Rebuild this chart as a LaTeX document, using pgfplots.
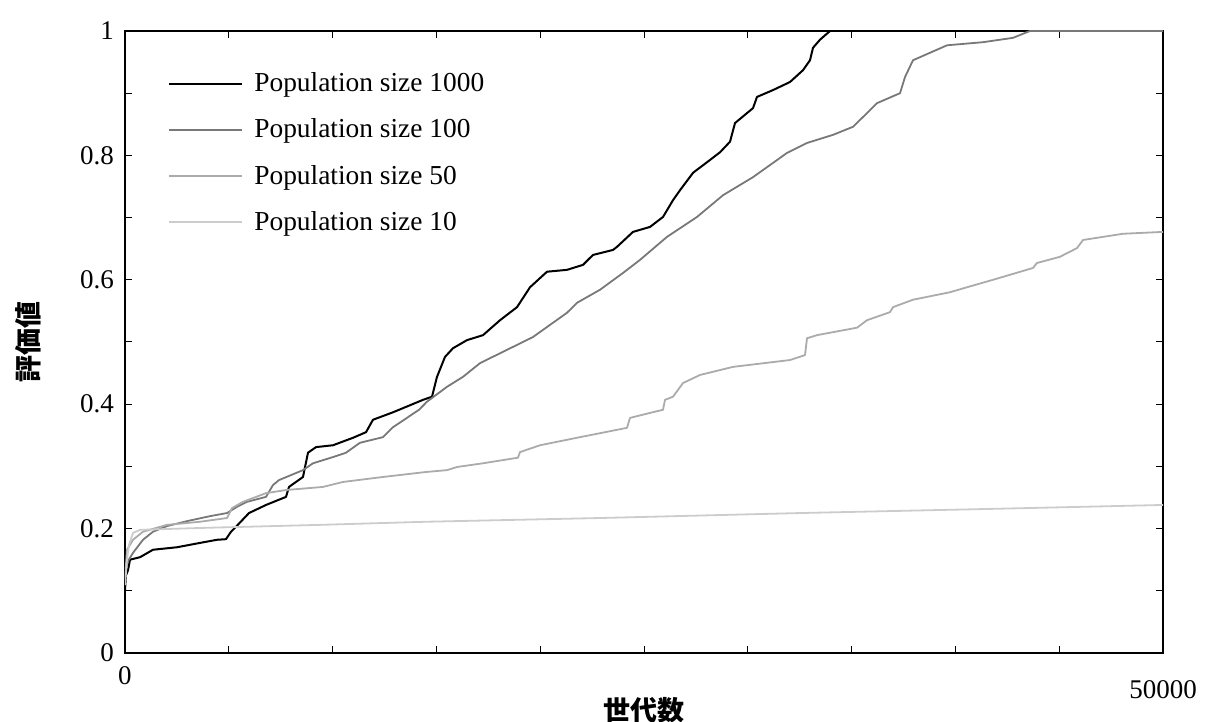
\documentclass[border=0pt]{standalone}
\usepackage{fontspec}
\setmainfont{Liberation Serif}
\newfontfamily\cjk{Noto Sans CJK JP}
\usepackage{pgfplots}
\pgfplotsset{compat=1.18}
\definecolor{cA}{gray}{0.0}
\definecolor{cB}{gray}{0.47}
\definecolor{cC}{gray}{0.67}
\definecolor{cD}{gray}{0.80}
\newcommand{\fs}{\fontsize{13.5pt}{16pt}\selectfont}
\newcommand{\fl}{\fontsize{13.7pt}{16pt}\selectfont}
\begin{document}
\begin{tikzpicture}
\path[use as bounding box] (-62.5pt,-34.5pt) rectangle (540pt,326.5pt);
\begin{axis}[
  scale only axis, width=519pt, height=311pt,
  xmin=0, xmax=50000, ymin=0, ymax=1,
  scaled x ticks=false, scaled y ticks=false,
  axis line style={line width=0.7pt},
  tick align=inside, major tick length=3.5pt,
  tick style={line width=0.5pt, black},
  xtick={0,5000,10000,15000,20000,25000,30000,35000,40000,45000},
  xticklabels={0,,,,,,,,,},
  extra x ticks={50000}, extra x tick labels={50000},
  extra x tick style={xticklabel style={yshift=-7pt}},
  ytick={0,0.1,0.2,0.3,0.4,0.5,0.6,0.7,0.8,0.9,1},
  yticklabels={0,,0.2,,0.4,,0.6,,0.8,,1},
  xticklabel style={yshift=-3pt},
  yticklabel style={xshift=-2pt},
  tick label style={font=\fs},
  xlabel={\cjk\bfseries 世代数},
  ylabel={\cjk\bfseries 評価値},
  xlabel style={at={(axis description cs:0.5,-0.070)}, anchor=north, inner sep=0pt, font=\fs},
  ylabel style={at={(axis description cs:-0.080,0.5)}, anchor=south, inner sep=0pt, font=\fs},
  legend style={draw=none, fill=none, at={(axis description cs:0.0356,0.940)}, anchor=north west,
    font=\fl, row sep=12.1pt, column sep=5.5pt, nodes={inner sep=0pt}, cells={anchor=west}},
  legend image code/.code={\draw[#1] (0pt,0pt) -- (36.5pt,0pt);},
  every axis plot/.append style={line join=round},
]
\addplot[cA, line width=1pt] coordinates {
(0,0.101) (48,0.125) (145,0.133) (241,0.150) (723,0.154) (1349,0.166) (2505,0.170)
(3613,0.177) (4432,0.182) (4865,0.183) (5106,0.195) (5347,0.203) (5973,0.225)
(6792,0.238) (7755,0.251) (7900,0.267) (8574,0.283) (8815,0.322) (9200,0.331)
(10019,0.334) (10983,0.346) (11609,0.355) (11946,0.375) (12910,0.387) (14355,0.407)
(14788,0.412) (15029,0.444) (15414,0.476) (15800,0.490) (16474,0.503) (17245,0.511)
(18064,0.535) (18883,0.556) (19509,0.588) (20328,0.613) (21291,0.616) (22062,0.624)
(22544,0.640) (23507,0.648) (23700,0.653) (24470,0.677) (25289,0.685) (25915,0.701)
(26397,0.728) (26734,0.744) (27361,0.772) (28035,0.789) (28661,0.805) (29143,0.822)
(29384,0.852) (30251,0.876) (30443,0.894) (31214,0.905) (32033,0.918) (32659,0.937)
(32996,0.953) (33141,0.973) (33478,0.986) (33960,1.0) (50000,1.0)
};
\addlegendentry{Population size 1000}
\addplot[cB, line width=0.9pt] coordinates {
(0,0.121) (96,0.145) (385,0.161) (867,0.182) (1349,0.195) (2023,0.204) (2987,0.212)
(4094,0.220) (4913,0.225) (5395,0.235) (5877,0.243) (6792,0.251) (7129,0.270)
(7418,0.278) (8574,0.294) (9056,0.305) (10019,0.315) (10646,0.322) (11320,0.338)
(12428,0.347) (12910,0.363) (14162,0.391) (14547,0.404) (15511,0.428) (16281,0.444)
(17101,0.466) (19653,0.508) (21291,0.547) (21773,0.563) (22881,0.584) (23989,0.611)
(24807,0.632) (26108,0.669) (27553,0.701) (28806,0.736) (30251,0.765) (31888,0.804)
(32852,0.820) (34104,0.833) (35068,0.846) (35742,0.868) (36224,0.884) (37332,0.900)
(37573,0.926) (37958,0.953) (38777,0.965) (39596,0.977) (41330,0.982) (42775,0.989)
(43594,1.0) (50000,1.0)
};
\addlegendentry{Population size 100}
\addplot[cC, line width=0.9pt] coordinates {
(0,0.117) (96,0.166) (385,0.182) (867,0.195) (2023,0.206) (3613,0.211) (4913,0.217)
(5154,0.233) (5684,0.243) (6792,0.257) (7755,0.262) (9538,0.267) (10501,0.275)
(12428,0.283) (14499,0.291) (15511,0.294) (15992,0.299) (17245,0.305) (18931,0.314)
(19027,0.323) (19991,0.334) (21917,0.347) (24181,0.362) (24326,0.378) (25289,0.386)
(25915,0.391) (26012,0.407) (26397,0.412) (26879,0.434) (27698,0.447) (29287,0.460)
(32033,0.471) (32756,0.479) (32852,0.506) (33334,0.511) (35260,0.523) (35742,0.535)
(36850,0.548) (36995,0.556) (37958,0.568) (39740,0.580) (40559,0.588) (41811,0.600)
(43738,0.619) (43930,0.627) (45038,0.637) (45858,0.651) (46147,0.664) (48073,0.674)
(50000,0.677)
};
\addlegendentry{Population size 50}
\addplot[cD, line width=0.9pt] coordinates {
(0,0.109) (96,0.150) (193,0.174) (385,0.193) (723,0.198) (3613,0.201) (9393,0.206)
(14499,0.211) (22881,0.217) (32515,0.225) (42149,0.232) (50000,0.238)
};
\addlegendentry{Population size 10}
\end{axis}
\end{tikzpicture}
\end{document}
